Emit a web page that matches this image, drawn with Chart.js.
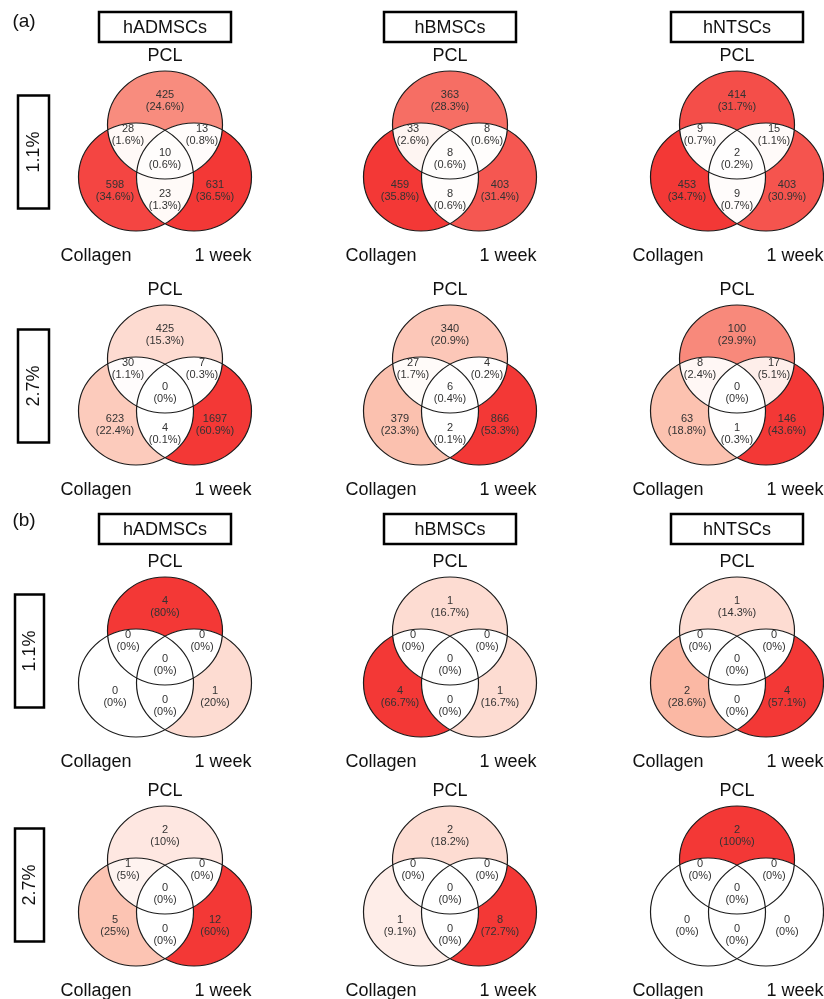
<!DOCTYPE html>
<html>
<head>
<meta charset="utf-8">
<script src="https://cdn.jsdelivr.net/npm/chart.js@4/dist/chart.umd.min.js"></script>
<style>
  html, body { margin: 0; padding: 0; background: #ffffff; }
  #wrap { width: 824px; height: 999px; position: relative; }
</style>
</head>
<body>
<div id="wrap"><canvas id="venn"></canvas></div>
<script>
// ---- labels ----
const panelTags = ['(a)', '(b)'];
const cellTypes = ['hADMSCs', 'hBMSCs', 'hNTSCs'];
const concentrations = ['1.1%', '2.7%'];
const setNames = ['PCL', 'Collagen', '1 week'];

// Region order in every count array:
// PCL only, Collagen only, 1 week only, PCL∩Collagen, PCL∩1 week, Collagen∩1 week, all three
const regionNames = ['PCL only', 'Collagen only', '1 week only', 'PCL & Collagen', 'PCL & 1 week', 'Collagen & 1 week', 'All three'];

// ---- panel (a) counts ----
const a11_hADMSCs = [425, 598, 631, 28, 13, 23, 10];
const a11_hBMSCs  = [363, 459, 403, 33, 8, 8, 8];
const a11_hNTSCs  = [414, 453, 403, 9, 15, 9, 2];
const a27_hADMSCs = [425, 623, 1697, 30, 7, 4, 0];
const a27_hBMSCs  = [340, 379, 866, 27, 4, 2, 6];
const a27_hNTSCs  = [100, 63, 146, 8, 17, 1, 0];

// ---- panel (b) counts ----
const b11_hADMSCs = [4, 0, 1, 0, 0, 0, 0];
const b11_hBMSCs  = [1, 4, 1, 0, 0, 0, 0];
const b11_hNTSCs  = [1, 2, 4, 0, 0, 0, 0];
const b27_hADMSCs = [2, 5, 12, 1, 0, 0, 0];
const b27_hBMSCs  = [2, 1, 8, 0, 0, 0, 0];
const b27_hNTSCs  = [2, 0, 0, 0, 0, 0, 0];

// grid of diagrams: rows = (a)1.1, (a)2.7, (b)1.1, (b)2.7 ; cols = cell types
const grid = [
  [a11_hADMSCs, a11_hBMSCs, a11_hNTSCs],
  [a27_hADMSCs, a27_hBMSCs, a27_hNTSCs],
  [b11_hADMSCs, b11_hBMSCs, b11_hNTSCs],
  [b27_hADMSCs, b27_hBMSCs, b27_hNTSCs]
];

// ---- layout (page units on the chart's x/y scales) ----
const layout = {
  colX: [165, 450, 737],
  rowTop: [71, 305, 577, 806],
  headerY: [27, 529],
  headerW: 132, headerH: 30,
  tagPos: [[24, 22], [24, 521]],
  rowBoxY: [152, 386, 651, 885],
  rowBoxX: [33.5, 33.5, 29.5, 29.5],
  rowBoxW: [31, 31, 29, 29],
  rowBoxH: 113,
  circles: [[0, 54], [-29, 106], [29, 106]],   // PCL, Collagen, 1 week
  rx: 57.5, ry: 54,
  labelOff: [[0, 30], [-50, 120], [50, 120], [-37, 64], [37, 64], [0, 129], [0, 88]],
  setLabelOff: [[0, -15], [-69, 185], [58, 185]]
};

// membership of each region in (PCL, Collagen, 1 week)
const masks = [[1,0,0],[0,1,0],[0,0,1],[1,1,0],[1,0,1],[0,1,1],[1,1,1]];

// white -> salmon -> red ramp
const rampStops = [[0, [255,255,255]], [0.5, [251,184,164]], [1, [243,56,54]]];
function heat(t) {
  t = Math.max(0, Math.min(1, t));
  for (let i = 1; i < rampStops.length; i++) {
    const [t1, c1] = rampStops[i];
    const [t0, c0] = rampStops[i - 1];
    if (t <= t1) {
      const f = (t - t0) / (t1 - t0);
      const c = c0.map((v, k) => Math.round(v + (c1[k] - v) * f));
      return `rgb(${c[0]},${c[1]},${c[2]})`;
    }
  }
  const c = rampStops[rampStops.length - 1][1];
  return `rgb(${c[0]},${c[1]},${c[2]})`;
}

function pctText(v, total) {
  if (!total) return '(0%)';
  let s = (v / total * 100).toFixed(1);
  if (s.endsWith('.0')) s = s.slice(0, -2);
  return '(' + s + '%)';
}

const FONT = '"Liberation Sans", Arial, Helvetica, sans-serif';

const vennPlugin = {
  id: 'vennPlugin',
  afterDraw(chart) {
    const ctx = chart.ctx;
    const xs = chart.scales.x, ys = chart.scales.y;
    const X = v => xs.getPixelForValue(v);
    const Y = v => ys.getPixelForValue(v);
    const W = chart.width, H = chart.height;

    function ellipsePath(cx, cy) {
      const px = X(cx), py = Y(cy);
      const prx = Math.abs(X(cx + layout.rx) - px);
      const pry = Math.abs(Y(cy + layout.ry) - py);
      ctx.ellipse(px, py, prx, pry, 0, 0, Math.PI * 2);
    }

    ctx.save();
    ctx.textAlign = 'center';
    ctx.textBaseline = 'middle';

    grid.forEach((row, r) => {
      const top = layout.rowTop[r];
      row.forEach((counts, c) => {
        const cx = layout.colX[c];
        const centers = layout.circles.map(([dx, dy]) => [cx + dx, top + dy]);
        const total = counts.reduce((a, b) => a + b, 0);
        const maxV = Math.max(...counts);

        // region fills
        counts.forEach((v, i) => {
          ctx.save();
          masks[i].forEach((inside, k) => {
            ctx.beginPath();
            if (!inside) ctx.rect(0, 0, W, H);
            ellipsePath(centers[k][0], centers[k][1]);
            ctx.clip(inside ? 'nonzero' : 'evenodd');
          });
          ctx.fillStyle = heat(maxV ? v / maxV : 0);
          ctx.fillRect(0, 0, W, H);
          ctx.restore();
        });

        // circle outlines
        ctx.strokeStyle = '#1c1c1c';
        ctx.lineWidth = 1.2;
        centers.forEach(([ex, ey]) => {
          ctx.beginPath();
          ellipsePath(ex, ey);
          ctx.stroke();
        });

        // region counts and shares
        ctx.fillStyle = '#333333';
        ctx.font = '11px ' + FONT;
        counts.forEach((v, i) => {
          const [ox, oy] = layout.labelOff[i];
          ctx.fillText(String(v), X(cx + ox), Y(top + oy - 6));
          ctx.fillText(pctText(v, total), X(cx + ox), Y(top + oy + 6));
        });

        // set names
        ctx.fillStyle = '#111111';
        ctx.font = '18px ' + FONT;
        setNames.forEach((name, k) => {
          const [ox, oy] = layout.setLabelOff[k];
          ctx.fillText(name, X(cx + ox), Y(top + oy));
        });
      });
    });

    // panel tags and column headers
    ctx.strokeStyle = '#000000';
    ctx.lineWidth = 2.5;
    panelTags.forEach((tag, p) => {
      ctx.fillStyle = '#111111';
      ctx.font = '19px ' + FONT;
      ctx.fillText(tag, X(layout.tagPos[p][0]), Y(layout.tagPos[p][1]));
      ctx.font = '18px ' + FONT;
      cellTypes.forEach((name, c) => {
        const bx = layout.colX[c], by = layout.headerY[p];
        const x0 = X(bx - layout.headerW / 2), y0 = Y(by - layout.headerH / 2);
        const x1 = X(bx + layout.headerW / 2), y1 = Y(by + layout.headerH / 2);
        ctx.strokeRect(x0, y0, x1 - x0, y1 - y0);
        ctx.fillText(name, X(bx), Y(by + 1));
      });
    });

    // concentration boxes (rotated text)
    layout.rowBoxY.forEach((by, r) => {
      const bx = layout.rowBoxX[r];
      const bw = layout.rowBoxW[r];
      const x0 = X(bx - bw / 2), y0 = Y(by - layout.rowBoxH / 2);
      const x1 = X(bx + bw / 2), y1 = Y(by + layout.rowBoxH / 2);
      ctx.strokeRect(x0, y0, x1 - x0, y1 - y0);
      ctx.save();
      ctx.translate(X(bx) + 1, Y(by));
      ctx.rotate(-Math.PI / 2);
      ctx.fillStyle = '#111111';
      ctx.font = '18px ' + FONT;
      ctx.fillText(concentrations[r % 2], 0, 0);
      ctx.restore();
    });

    ctx.restore();
  }
};

new Chart(document.getElementById('venn'), {
  type: 'scatter',
  data: { datasets: [{ label: 'regions', data: [], showLine: false }] },
  options: {
    responsive: true,
    maintainAspectRatio: false,
    animation: false,
    events: [],
    layout: { padding: 0 },
    scales: {
      x: { type: 'linear', min: 0, max: 824, display: false },
      y: { type: 'linear', min: 0, max: 999, reverse: true, display: false }
    },
    plugins: { legend: { display: false }, tooltip: { enabled: false } }
  },
  plugins: [vennPlugin]
});
</script>
</body>
</html>
